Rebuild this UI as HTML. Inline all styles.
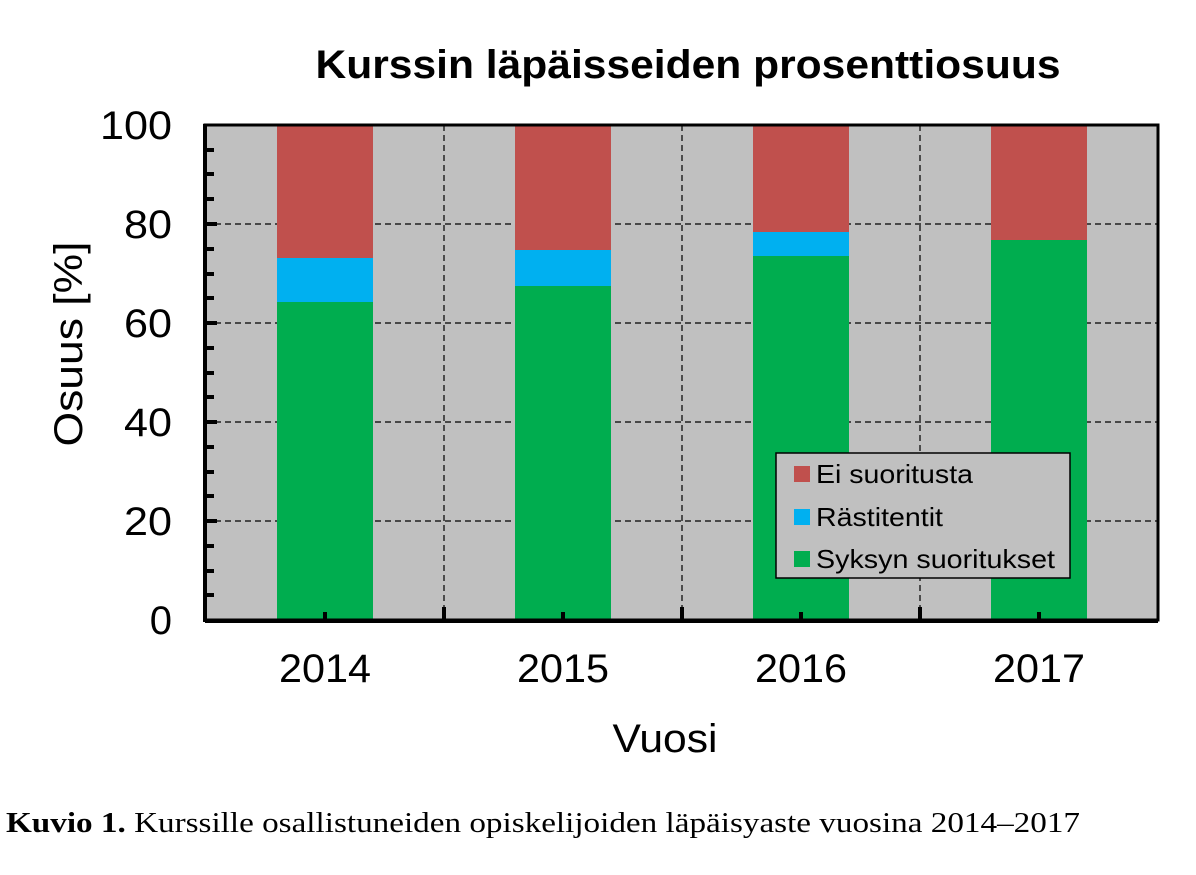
<!DOCTYPE html>
<html><head><meta charset="utf-8"><style>
html,body{margin:0;padding:0;background:#fff;}
svg text{font-family:"Liberation Sans",Arial,sans-serif;}
</style></head><body>
<svg width="1196" height="870" viewBox="0 0 1196 870" xmlns="http://www.w3.org/2000/svg">
<rect x="205" y="125" width="953" height="496" fill="#c0c0c0"/>
<g stroke="#000" stroke-width="1.2" stroke-dasharray="6,4">
<line x1="205" y1="224" x2="1158" y2="224"/>
<line x1="205" y1="323" x2="1158" y2="323"/>
<line x1="205" y1="422" x2="1158" y2="422"/>
<line x1="205" y1="521" x2="1158" y2="521"/>
<line x1="444" y1="125" x2="444" y2="621"/>
<line x1="682" y1="125" x2="682" y2="621"/>
<line x1="920" y1="125" x2="920" y2="621"/>
</g>
<g>
<rect x="277" y="302" width="96" height="318" fill="#00ad4f"/>
<rect x="277" y="258" width="96" height="44" fill="#00b0f0"/>
<rect x="277" y="125" width="96" height="133" fill="#c0504d"/>
<rect x="515" y="286" width="96" height="334" fill="#00ad4f"/>
<rect x="515" y="250" width="96" height="36" fill="#00b0f0"/>
<rect x="515" y="125" width="96" height="125" fill="#c0504d"/>
<rect x="753" y="256" width="96" height="364" fill="#00ad4f"/>
<rect x="753" y="232" width="96" height="24" fill="#00b0f0"/>
<rect x="753" y="125" width="96" height="107" fill="#c0504d"/>
<rect x="991" y="240" width="96" height="380" fill="#00ad4f"/>
<rect x="991" y="125" width="96" height="115" fill="#c0504d"/>
</g>
<g stroke="#000" stroke-width="4">
<line x1="205" y1="150" x2="214" y2="150"/><line x1="205" y1="174" x2="214" y2="174"/><line x1="205" y1="199" x2="214" y2="199"/>
<line x1="205" y1="224" x2="217" y2="224"/>
<line x1="205" y1="249" x2="214" y2="249"/><line x1="205" y1="274" x2="214" y2="274"/><line x1="205" y1="298" x2="214" y2="298"/>
<line x1="205" y1="323" x2="217" y2="323"/>
<line x1="205" y1="348" x2="214" y2="348"/><line x1="205" y1="373" x2="214" y2="373"/><line x1="205" y1="397" x2="214" y2="397"/>
<line x1="205" y1="422" x2="217" y2="422"/>
<line x1="205" y1="447" x2="214" y2="447"/><line x1="205" y1="472" x2="214" y2="472"/><line x1="205" y1="496" x2="214" y2="496"/>
<line x1="205" y1="521" x2="217" y2="521"/>
<line x1="205" y1="546" x2="214" y2="546"/><line x1="205" y1="571" x2="214" y2="571"/><line x1="205" y1="595" x2="214" y2="595"/>
<line x1="325" y1="620" x2="325" y2="612"/><line x1="563" y1="620" x2="563" y2="612"/><line x1="801" y1="620" x2="801" y2="612"/><line x1="1039" y1="620" x2="1039" y2="612"/>
<line x1="444" y1="620" x2="444" y2="607"/><line x1="682" y1="620" x2="682" y2="607"/><line x1="920" y1="620" x2="920" y2="607"/>
</g>
<rect x="205" y="125" width="953" height="495" fill="none" stroke="#000" stroke-width="3"/>
<line x1="205" y1="621" x2="1158" y2="621" stroke="#000" stroke-width="4"/>
<line x1="205" y1="124" x2="205" y2="622" stroke="#000" stroke-width="4"/>
<rect x="776" y="453" width="294" height="125" fill="#c0c0c0" stroke="#000" stroke-width="1.5"/>
<rect x="794" y="466" width="16" height="16" fill="#c0504d"/>
<rect x="794" y="509" width="16" height="16" fill="#00b0f0"/>
<rect x="794" y="551" width="16" height="16" fill="#00ad4f"/>
<g font-size="26" fill="#000">
<text x="816" y="483" textLength="157" lengthAdjust="spacingAndGlyphs">Ei suoritusta</text>
<text x="816" y="526" textLength="127" lengthAdjust="spacingAndGlyphs">Rästitentit</text>
<text x="816" y="568" textLength="239" lengthAdjust="spacingAndGlyphs">Syksyn suoritukset</text>
</g>
<g font-size="40" fill="#000" text-anchor="end">
<text x="172" y="139" textLength="72" lengthAdjust="spacingAndGlyphs">100</text><text x="172" y="238" textLength="48" lengthAdjust="spacingAndGlyphs">80</text><text x="172" y="337" textLength="48" lengthAdjust="spacingAndGlyphs">60</text>
<text x="172" y="436" textLength="48" lengthAdjust="spacingAndGlyphs">40</text><text x="172" y="535" textLength="48" lengthAdjust="spacingAndGlyphs">20</text><text x="172" y="634">0</text>
</g>
<g font-size="40" fill="#000" text-anchor="middle">
<text x="325" y="682" textLength="92" lengthAdjust="spacingAndGlyphs">2014</text><text x="563" y="682" textLength="92" lengthAdjust="spacingAndGlyphs">2015</text><text x="801" y="682" textLength="92" lengthAdjust="spacingAndGlyphs">2016</text><text x="1039" y="682" textLength="92" lengthAdjust="spacingAndGlyphs">2017</text>
<text x="665" y="752" textLength="105" lengthAdjust="spacingAndGlyphs">Vuosi</text>
</g>
<text x="688" y="78" font-size="40" font-weight="bold" text-anchor="middle" textLength="745" lengthAdjust="spacingAndGlyphs">Kurssin läpäisseiden prosenttiosuus</text>
<text transform="translate(82,344) rotate(-90)" font-size="40" text-anchor="middle" textLength="205" lengthAdjust="spacingAndGlyphs">Osuus  [%]</text>
<text x="6" y="832" font-size="28" style="font-family:'Liberation Serif',serif" textLength="1074" lengthAdjust="spacingAndGlyphs"><tspan font-weight="bold">Kuvio 1.</tspan> Kurssille osallistuneiden opiskelijoiden läpäisyaste vuosina 2014–2017</text>
</svg>
</body></html>
